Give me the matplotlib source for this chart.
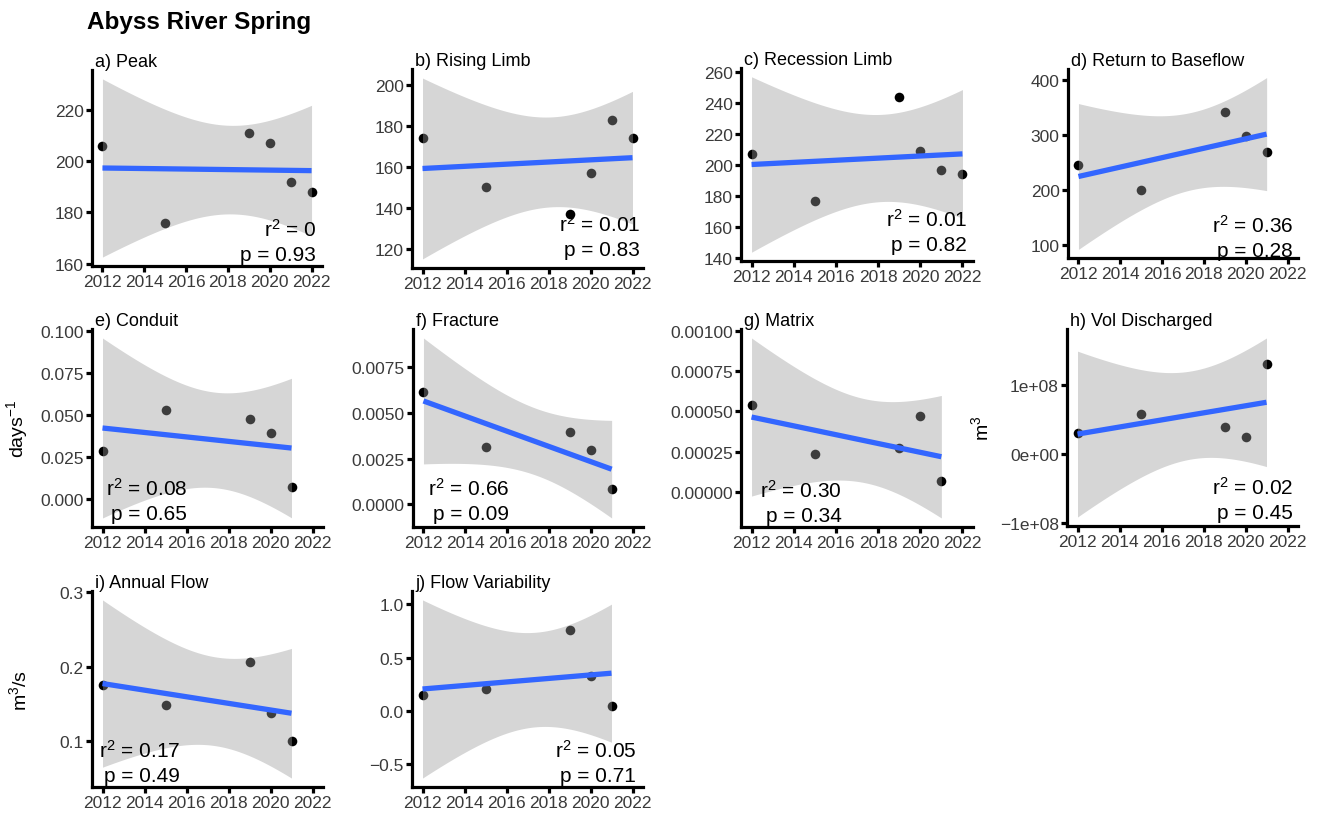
import numpy as np
import matplotlib
matplotlib.use("Agg")
import matplotlib.pyplot as plt

plt.rcParams['font.family'] = ['Liberation Sans', 'DejaVu Sans']
plt.rcParams['mathtext.fontset'] = 'custom'
plt.rcParams['mathtext.rm'] = 'Liberation Sans'
plt.rcParams['mathtext.it'] = 'Liberation Sans:italic'
plt.rcParams['mathtext.bf'] = 'Liberation Sans:bold'
plt.rcParams['axes.unicode_minus'] = True

# ---------------------------------------------------------------- data
site = "Abyss River Spring"

panel_titles = ["a) Peak", "b) Rising Limb", "c) Recession Limb", "d) Return to Baseflow",
                "e) Conduit", "f) Fracture", "g) Matrix", "h) Vol Discharged",
                "i) Annual Flow", "j) Flow Variability"]

years_six = [2012, 2015, 2019, 2020, 2021, 2022]
years_five = [2012, 2015, 2019, 2020, 2021]

peak = [206, 176, 211, 207, 192, 188]
rising_limb = [174, 150, 137, 157, 183, 174]
recession_limb = [207, 177, 244, 209, 197, 194]
return_to_baseflow = [245, 200, 342, 299, 269]
conduit = [0.0286, 0.0530, 0.0478, 0.0393, 0.0075]
fracture = [0.00616, 0.00312, 0.00397, 0.00295, 0.00085]
matrix = [0.00054, 0.000233, 0.000273, 0.00047, 0.00007]
vol_discharged = [3.1e7, 5.8e7, 3.9e7, 2.5e7, 1.31e8]
annual_flow = [0.175, 0.148, 0.206, 0.1375, 0.100]
flow_variability = [0.145, 0.203, 0.755, 0.327, 0.043]

r2_labels = ["0", "0.01", "0.01", "0.36", "0.08", "0.66", "0.30", "0.02", "0.17", "0.05"]
p_labels = ["0.93", "0.83", "0.82", "0.28", "0.65", "0.09", "0.34", "0.45", "0.49", "0.71"]

y_labels = [None, None, None, None, r"days$^{-1}$", None, None, r"m$^{3}$", r"m$^{3}$/s", None]

x_ticks = [2012, 2014, 2016, 2018, 2020, 2022]
y_ticks = [
    [160, 180, 200, 220],
    [120, 140, 160, 180, 200],
    [140, 160, 180, 200, 220, 240, 260],
    [100, 200, 300, 400],
    [0.0, 0.025, 0.05, 0.075, 0.1],
    [0.0, 0.0025, 0.005, 0.0075],
    [0.0, 0.00025, 0.0005, 0.00075, 0.001],
    [-1e8, 0.0, 1e8],
    [0.1, 0.2, 0.3],
    [-0.5, 0.0, 0.5, 1.0],
]
y_tick_labels = [
    ["160", "180", "200", "220"],
    ["120", "140", "160", "180", "200"],
    ["140", "160", "180", "200", "220", "240", "260"],
    ["100", "200", "300", "400"],
    ["0.000", "0.025", "0.050", "0.075", "0.100"],
    ["0.0000", "0.0025", "0.0050", "0.0075"],
    ["0.00000", "0.00025", "0.00050", "0.00075", "0.00100"],
    ["\u22121e+08", "0e+00", "1e+08"],
    ["0.1", "0.2", "0.3"],
    ["\u22120.5", "0.0", "0.5", "1.0"],
]

series = [
    (years_six, peak),
    (years_six, rising_limb),
    (years_six, recession_limb),
    (years_five, return_to_baseflow),
    (years_five, conduit),
    (years_five, fracture),
    (years_five, matrix),
    (years_five, vol_discharged),
    (years_five, annual_flow),
    (years_five, flow_variability),
]

# ---------------------------------------------------------------- layout (pixels)
W, H = 1320, 820
# left, right, top, bottom of each panel
boxes = [
    (92, 322, 71, 267), (412, 643, 70, 269), (741, 973, 69, 262), (1068, 1298, 70, 259),
    (92, 323, 330, 528), (413, 643, 330, 528), (741, 973, 330, 528), (1067, 1298, 330, 527),
    (92, 323, 592, 788), (412, 643, 592, 788),
]
# right edge and baseline of the p-value line for each stats label
stat_pos = [
    (316, 261), (640, 256), (967, 251), (1293, 257),
    (187, 520), (509, 520), (842, 522), (1293, 519),
    (180, 782), (636, 782),
]
stat_gap = 24
# right-hand edge (in x) of the rotated axis titles
ylabel_x = [None, None, None, None, 30, None, None, 992, 30, None]

T95 = {3: 3.182446, 4: 2.776445}

TICK_COLOR = "#3a3a3a"

fig = plt.figure(figsize=(W / 100, H / 100), dpi=100)
fig.text(87 / W, 1 - 29 / H, site, fontsize=17.5, fontweight="bold",
         ha="left", va="baseline")


def lm_band(x, y, xs):
    x = np.asarray(x, float)
    y = np.asarray(y, float)
    n = len(x)
    xm = x.mean()
    sxx = ((x - xm) ** 2).sum()
    b = ((x - xm) * (y - y.mean())).sum() / sxx
    a = y.mean() - b * xm
    resid = y - (a + b * x)
    s = np.sqrt((resid ** 2).sum() / (n - 2))
    fit = a + b * xs
    se = s * np.sqrt(1.0 / n + (xs - xm) ** 2 / sxx)
    t = T95[n - 2]
    return fit, fit - t * se, fit + t * se


for i, ((xv, yv), box) in enumerate(zip(series, boxes)):
    l, r, t, b = box
    ax = fig.add_axes([l / W, 1 - b / H, (r - l) / W, (b - t) / H])

    xs = np.linspace(min(xv), max(xv), 80)
    fit, lo, hi = lm_band(xv, yv, xs)

    ax.scatter(xv, yv, s=48, color="black", linewidths=0, zorder=2)
    ax.fill_between(xs, lo, hi, color="#999999", alpha=0.4, linewidth=0, zorder=3)
    ax.plot(xs, fit, color="#3366FF", lw=3.8, solid_capstyle="butt", zorder=4)

    ymin = min(lo.min(), min(yv))
    ymax = max(hi.max(), max(yv))
    pad = 0.05 * (ymax - ymin)
    ax.set_ylim(ymin - pad, ymax + pad)
    ax.set_xlim(2011.5, 2022.5)

    ax.set_xticks(x_ticks)
    ax.set_xticklabels([str(v) for v in x_ticks])
    ax.set_yticks(y_ticks[i])
    ax.set_yticklabels(y_tick_labels[i])

    for side in ("top", "right"):
        ax.spines[side].set_visible(False)
    for side in ("left", "bottom"):
        ax.spines[side].set_linewidth(2.3)
        ax.spines[side].set_color("black")
    ax.tick_params(axis="both", direction="out", length=4, width=2.3, color="black",
                   labelsize=12.5, labelcolor=TICK_COLOR, pad=2)
    ax.set_facecolor("none")

    # panel title
    w_px = r - l
    h_px = b - t
    ax.text(3 / w_px, 1 + 4 / h_px, panel_titles[i], transform=ax.transAxes,
            ha="left", va="baseline", fontsize=13, color="black")

    # stats label
    sx, sy = stat_pos[i]
    fx = (sx - l) / w_px
    fy_p = (b - sy) / h_px
    fy_r = (b - sy + stat_gap) / h_px
    ax.text(fx, fy_r, "r$^{2}$ = " + r2_labels[i], transform=ax.transAxes,
            ha="right", va="baseline", fontsize=15, color="black", zorder=5)
    ax.text(fx, fy_p, "p = " + p_labels[i], transform=ax.transAxes,
            ha="right", va="baseline", fontsize=15, color="black", zorder=5)

    if y_labels[i] is not None:
        ax.set_ylabel(y_labels[i], fontsize=14, color="black")
        ax.yaxis.set_label_coords((ylabel_x[i] - l) / w_px, 0.5)

fig.savefig("out.png", dpi=100, facecolor="white")
